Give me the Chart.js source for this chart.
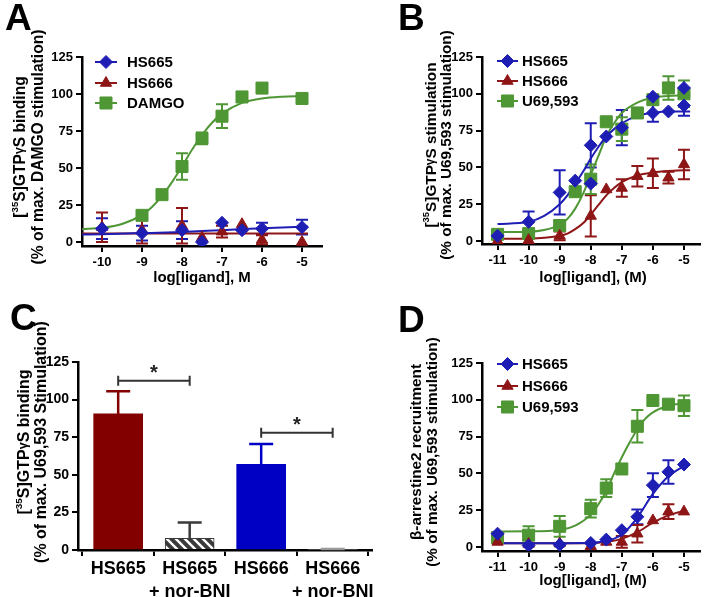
<!DOCTYPE html>
<html lang="en">
<head>
<meta charset="UTF-8">
<title>HS665 / HS666 GTPγS and β-arrestin2</title>
<script src="https://cdn.jsdelivr.net/npm/chart.js@4.4.1/dist/chart.umd.min.js"></script>
<style>
  body { margin: 0; background: #fff; }
  #fig { position: relative; width: 709px; height: 597px; overflow: hidden; }
  #fig canvas { position: absolute; }
</style>
</head>
<body>
<div id="fig">
  <canvas id="cA" width="355" height="300" style="left:0;top:0"></canvas>
  <canvas id="cB" width="354" height="300" style="left:355px;top:0"></canvas>
  <canvas id="cD" width="354" height="297" style="left:355px;top:300px"></canvas>
  <canvas id="cC" width="380" height="297" style="left:0;top:300px"></canvas>
</div>
<script>
// ---------- panel A : [35S]GTPγS binding, MOR ----------
const aHS665x = [-10, -9, -8, -7.5, -7, -6.5, -6, -5];
const aHS665y = [9, 6, 8, 0, 13, 8, 9, 10];
const aHS665e = [7, 5, 6, 0, 0, 0, 4, 5];
const aHS666x = [-10, -9, -8, -7.5, -7, -6.5, -6, -5];
const aHS666y = [10, 8, 11, 3, 7, 12, 1.5, 0];
const aHS666e = [10, 9, 12, 0, 4, 0, 3, 0];
const aDamgoX = [-9, -8.5, -8, -7.5, -7, -6.5, -6, -5];
const aDamgoY = [18, 32, 51, 70, 85, 98, 104, 97];
const aDamgoE = [1, 3, 9, 4, 8, 0, 0, 3];
// fitted curves
const aFitX = [-10.5, -10, -9.5, -9, -8.75, -8.5, -8.25, -8, -7.75, -7.5, -7.25, -7, -6.5, -6, -5.5, -5, -4.85];
const aFitDamgo = [8.6, 9.6, 12.2, 18.3, 23.7, 31.2, 40.5, 51, 62.3, 72.3, 80.6, 86.7, 94, 97, 98.2, 98.6, 98.7];
const aFit665X = [-10.5, -10, -9, -8, -7, -6, -5, -4.85];
const aFit665 = [5, 5.3, 6, 6.8, 8, 9.3, 10.3, 10.4];
const aFit666X = [-10.5, -8, -4.85];
const aFit666 = [5.8, 5.8, 5.8];

// ---------- panel B : [35S]GTPγS stimulation, KOR ----------
const bHS665x = [-11, -10, -9, -8.5, -8, -8, -7.5, -7, -6, -6, -5.5, -5, -5];
const bHS665y = [3.5, 13, 33, 41, 65, 39, 71, 77, 98, 87, 88, 104, 92];
const bHS665e = [0, 7, 15, 0, 15, 0, 0, 12, 0, 6, 0, 0, 7];
const bHS666x = [-11, -10, -9, -8, -7.5, -7, -6.5, -6, -5.5, -5];
const bHS666y = [0, 0.5, 3.5, 17, 35, 36, 44, 46, 43, 52];
const bHS666e = [0, 0, 3, 14, 0, 6, 7, 10, 4, 10];
const bU69x = [-11, -10, -9, -8.5, -8, -7.5, -7, -6.5, -6, -5.5, -5];
const bU69y = [4.5, 5, 10.5, 33.5, 42, 81, 76, 87, 96, 104, 100];
const bU69e = [1, 2, 3, 0, 10, 2, 8, 3, 3, 8, 9];
const bFitX = [-11, -10, -9.5, -9, -8.75, -8.5, -8.25, -8, -7.75, -7.5, -7.25, -7, -6.5, -6, -5.5, -5, -4.8];
const bFit665 = [11.5, 13, 17, 25, 31, 39, 47, 56, 64, 71, 76, 80, 85, 87, 88, 88, 88];
const bFit666 = [1.5, 1.7, 2.2, 3.5, 5, 8, 12, 18, 24.5, 31, 36, 40, 44.5, 46.5, 47.5, 48, 48];
const bFitU69 = [6, 6.3, 7.5, 11, 15, 22, 32, 45, 58, 71, 80, 87, 94, 97.5, 98.5, 99, 99];

// ---------- panel C : bars with nor-BNI ----------
const cLabels = [['HS665'], ['HS665', '+ nor-BNI'], ['HS666'], ['HS666', '+ nor-BNI']];
const cMean = [90.5, 7.8, 57, 0];
const cSem = [15, 10.5, 13.5, 0.6];
const cSigFrom = [0, 2];
const cSigTo = [1, 3];
const cSigY = [112.6, 77.9];

// ---------- panel D : β-arrestin2 recruitment ----------
const dDose = [-11, -10, -9, -8, -7.5, -7, -6.5, -6, -5.5, -5];
const dHS665y = [9, 1, 1.5, 2.7, 5, 11.4, 20.5, 42, 51, 56];
const dHS665e = [0, 0, 0, 0, 0, 0, 5, 8, 8, 0];
const dHS666y = [3.4, 2, 2.3, 0.5, 3.4, 3.4, 9, 18, 24, 24];
const dHS666e = [0, 0, 0, 0, 0, 4, 6, 0, 5, 0];
const dU69y = [6.4, 8, 14, 26, 40, 53, 82, 99.5, 97, 96];
const dU69e = [2, 6, 7, 6, 6, 0, 11, 0, 0, 7];
const dFitU69X = [-11, -10, -9, -8.5, -8, -7.75, -7.5, -7.25, -7, -6.75, -6.5, -6.25, -6, -5.5, -5, -4.8];
const dFitU69 = [10.5, 10.6, 11.5, 14.5, 22, 29, 38, 50, 61, 71, 80, 87, 91.5, 96, 97.5, 98];
const dFitX = [-11, -10, -9, -8, -7.5, -7, -6.5, -6, -5.5, -5];
const dFit665 = [2.5, 2.5, 2.5, 2.8, 4, 8.5, 20, 36, 48, 55];
const dFit666 = [2.5, 2.5, 2.5, 2.6, 3.5, 5.5, 10, 16.5, 21.5, 24.5];

const FONT = "'Liberation Sans', Arial, Helvetica, sans-serif";
const BLUE = '#1e1eb4';
const RED = '#8e1616';
const GREEN = '#4f9634';
const STYLE = {
  HS665: ['rectRot', 6.5, BLUE],
  HS666: ['triangle', 6.5, RED],
  DAMGO: ['rect', 8.5, GREEN],
  'U69,593': ['rect', 8.5, GREEN]
};

function pts(xs, ys) { return xs.map((x, i) => ({ x: x, y: ys[i] })); }

function drawMarker(ctx, name, x, y) {
  const s = STYLE[name];
  ctx.save();
  ctx.fillStyle = s[2];
  ctx.strokeStyle = s[2];
  ctx.lineWidth = 1;
  Chart.helpers.drawPoint(ctx, { pointStyle: s[0], radius: s[1], borderWidth: 1, rotation: 0 }, x, y);
  ctx.restore();
}

// text with superscripts: parts = [[text, kind]] kind 0 normal, 1 superscript, 2 small gamma
function richText(ctx, parts, x, y, size) {
  const f = k => 'bold ' + (k === 1 ? size * 0.62 : k === 2 ? size * 0.78 : size) + 'px ' + FONT;
  let w = 0;
  parts.forEach(p => { ctx.font = f(p[1]); w += ctx.measureText(p[0]).width; });
  let cx = x - w / 2;
  ctx.textAlign = 'left';
  ctx.textBaseline = 'alphabetic';
  parts.forEach(p => {
    ctx.font = f(p[1]);
    const dy = p[1] === 1 ? -size * 0.4 : p[1] === 2 ? -size * 0.12 : 0;
    ctx.fillText(p[0], cx, y + size * 0.36 + dy);
    cx += ctx.measureText(p[0]).width;
  });
}

function annotations(p) {
  return {
    id: 'annot',
    afterDraw(chart) {
      const ctx = chart.ctx;
      ctx.save();
      ctx.fillStyle = '#000';
      // panel letter
      ctx.font = 'bold 37px ' + FONT;
      ctx.textAlign = 'left';
      ctx.textBaseline = 'alphabetic';
      ctx.fillText(p.letter[0], p.letter[1], p.letter[2]);
      // y title, two rotated lines
      p.ytitle.lines.forEach((ln, i) => {
        ctx.save();
        ctx.translate(p.ytitle.xs[i], p.ytitle.cy);
        ctx.rotate(-Math.PI / 2);
        richText(ctx, ln, 0, 0, p.ytitle.size);
        ctx.restore();
      });
      // x title
      if (p.xtitle) {
        ctx.font = 'bold 15px ' + FONT;
        ctx.textAlign = 'center';
        ctx.textBaseline = 'middle';
        ctx.fillText(p.xtitle[0], p.xtitle[1], p.xtitle[2]);
      }
      // legend
      if (p.legend) {
        const L = p.legend;
        L.names.forEach((n, i) => {
          const y = L.ys[i];
          ctx.strokeStyle = STYLE[n][2];
          ctx.lineWidth = 2;
          ctx.beginPath();
          ctx.moveTo(L.x0, y);
          ctx.lineTo(L.x1, y);
          ctx.stroke();
          drawMarker(ctx, n, (L.x0 + L.x1) / 2, y);
          ctx.fillStyle = '#000';
          ctx.font = 'bold 15px ' + FONT;
          ctx.textAlign = 'left';
          ctx.textBaseline = 'middle';
          ctx.fillText(n, L.tx, y + 1);
        });
      }
      ctx.restore();
    }
  };
}

// vertical error bars for scatter datasets carrying an "errs" array
const errorBars = {
  id: 'errorBars',
  beforeDatasetsDraw(chart) {
    const ctx = chart.ctx, xs = chart.scales.x, ys = chart.scales.y;
    ctx.save();
    chart.data.datasets.forEach(ds => {
      if (!ds.errs) return;
      ctx.strokeStyle = ds.borderColor;
      ctx.lineWidth = 2;
      ds.data.forEach((d, j) => {
        const e = ds.errs[j];
        if (!e) return;
        const px = xs.getPixelForValue(d.x);
        const y1 = ys.getPixelForValue(d.y + e);
        const y2 = ys.getPixelForValue(Math.max(d.y - e, ys.min));
        ctx.beginPath();
        ctx.moveTo(px, y1); ctx.lineTo(px, y2);
        ctx.moveTo(px - 6, y1); ctx.lineTo(px + 6, y1);
        ctx.moveTo(px - 6, y2); ctx.lineTo(px + 6, y2);
        ctx.stroke();
      });
    });
    ctx.restore();
  }
};

function axisCfg(min, max, ticks, fit, size) {
  return {
    type: 'linear', min: min, max: max,
    afterBuildTicks: s => { s.ticks = ticks.map(v => ({ value: v })); },
    afterFit: fit,
    grid: { drawOnChartArea: false, drawTicks: true, tickLength: 6, color: '#000', lineWidth: 2 },
    border: { display: true, color: '#000', width: 2.5 },
    ticks: { color: '#000', font: { family: FONT, weight: 'bold', size: size }, padding: 3,
             maxRotation: 0, autoSkip: false, callback: v => String(v) }
  };
}

function doseChart(id, p) {
  const datasets = [];
  p.series.forEach(s => {
    const st = STYLE[s.name];
    datasets.push({
      type: 'scatter', data: pts(s.x, s.y), errs: s.e,
      pointStyle: st[0], pointRadius: st[1], backgroundColor: st[2], borderColor: st[2], borderWidth: 1
    });
  });
  p.fits.forEach(f => {
    datasets.push({
      type: 'line', data: pts(f.x, f.y), borderColor: STYLE[f.name][2], borderWidth: 2,
      pointRadius: 0, fill: false, cubicInterpolationMode: 'monotone'
    });
  });
  const W = p.W, H = p.H;
  return new Chart(document.getElementById(id), {
    type: 'scatter',
    data: { datasets: datasets },
    options: {
      responsive: false, animation: false, events: [],
      layout: { padding: { left: 0, right: W - p.box[1], top: p.box[2], bottom: 0 } },
      scales: {
        x: axisCfg(p.xr[0], p.xr[1], p.xticks, s => { s.height = H - p.box[3]; }, 13),
        y: axisCfg(p.ymin, 125, [0, 25, 50, 75, 100, 125], s => { s.width = p.box[0]; }, 13)
      },
      plugins: { legend: { display: false }, tooltip: { enabled: false } }
    },
    plugins: [errorBars, annotations(p)]
  });
}

const title35 = word => [['[', 0], ['35', 1], ['S]GTP', 0], ['γ', 2], ['S ' + word, 0]];

doseChart('cA', {
  W: 355, H: 300, box: [82, 322, 57, 246], xr: [-10.5, -4.5], ymin: -2.7,
  xticks: [-10, -9, -8, -7, -6, -5],
  series: [
    { name: 'HS665', x: aHS665x, y: aHS665y, e: aHS665e },
    { name: 'HS666', x: aHS666x, y: aHS666y, e: aHS666e },
    { name: 'DAMGO', x: aDamgoX, y: aDamgoY, e: aDamgoE }
  ],
  fits: [
    { name: 'HS665', x: aFit665X, y: aFit665 },
    { name: 'HS666', x: aFit666X, y: aFit666 },
    { name: 'DAMGO', x: aFitX, y: aFitDamgo }
  ],
  legend: { names: ['HS665', 'HS666', 'DAMGO'], x0: 95, x1: 117, tx: 127, ys: [62, 83, 103] },
  letter: ['A', 5, 30],
  ytitle: { lines: [title35('binding'), [['(% of max. DAMGO stimulation)', 0]]], xs: [19, 37], cy: 147, size: 15.6 },
  xtitle: ['log[ligand], M', 202, 278]
});

doseChart('cB', {
  W: 354, H: 300, box: [127, 350, 57, 244], xr: [-11.5, -4.5], ymin: -2.05,
  xticks: [-11, -10, -9, -8, -7, -6, -5],
  series: [
    { name: 'HS665', x: bHS665x, y: bHS665y, e: bHS665e },
    { name: 'HS666', x: bHS666x, y: bHS666y, e: bHS666e },
    { name: 'U69,593', x: bU69x, y: bU69y, e: bU69e }
  ],
  fits: [
    { name: 'HS665', x: bFitX, y: bFit665 },
    { name: 'HS666', x: bFitX, y: bFit666 },
    { name: 'U69,593', x: bFitX, y: bFitU69 }
  ],
  legend: { names: ['HS665', 'HS666', 'U69,593'], x0: 142, x1: 163, tx: 167, ys: [61, 81, 101] },
  letter: ['B', 43, 30],
  ytitle: { lines: [title35('stimulation'), [['(% of max. U69,593 stimulation)', 0]]], xs: [75, 90], cy: 145, size: 15.3 },
  xtitle: ['log[ligand], (M)', 238, 278]
});

doseChart('cD', {
  W: 354, H: 297, box: [127, 350, 63, 251], xr: [-11.5, -4.5], ymin: -2.75,
  xticks: [-11, -10, -9, -8, -7, -6, -5],
  series: [
    { name: 'HS665', x: dDose, y: dHS665y, e: dHS665e },
    { name: 'HS666', x: dDose, y: dHS666y, e: dHS666e },
    { name: 'U69,593', x: dDose, y: dU69y, e: dU69e }
  ],
  fits: [
    { name: 'HS665', x: dFitX, y: dFit665 },
    { name: 'HS666', x: dFitX, y: dFit666 },
    { name: 'U69,593', x: dFitU69X, y: dFitU69 }
  ],
  legend: { names: ['HS665', 'HS666', 'U69,593'], x0: 142, x1: 163, tx: 167, ys: [64, 86, 107] },
  letter: ['D', 43, 32],
  ytitle: { lines: [[['β-arrestine2 recruitment', 0]], [['(% of max. U69,593 stimulation)', 0]]], xs: [60, 76], cy: 152, size: 15.3 },
  xtitle: ['log[ligand], (M)', 238, 281]
});

// ---------- panel C ----------
function hatchPattern() {
  const c = document.createElement('canvas');
  c.width = 9; c.height = 9;
  const g = c.getContext('2d');
  g.fillStyle = '#3a3a3a';
  g.fillRect(0, 0, 9, 9);
  g.strokeStyle = '#fff';
  g.lineWidth = 2.4;
  g.beginPath();
  g.moveTo(0, 0); g.lineTo(9, 9);
  g.moveTo(-2, 7); g.lineTo(2, 11);
  g.moveTo(7, -2); g.lineTo(11, 2);
  g.stroke();
  return g.createPattern(c, 'repeat');
}

const cFill = ['#820000', hatchPattern(), '#0000c4', '#ffffff'];
const cLine = ['#820000', '#3a3a3a', '#0000c4', '#999999'];

const barExtras = {
  id: 'barExtras',
  afterDatasetsDraw(chart) {
    const ctx = chart.ctx, xs = chart.scales.x, ys = chart.scales.y;
    ctx.save();
    ctx.lineWidth = 2.5;
    cMean.forEach((m, i) => {
      const px = xs.getPixelForValue(i);
      const y0 = ys.getPixelForValue(m);
      const y1 = ys.getPixelForValue(m + cSem[i]);
      ctx.strokeStyle = cLine[i];
      ctx.beginPath();
      ctx.moveTo(px, y0); ctx.lineTo(px, y1);
      ctx.moveTo(px - 12, y1); ctx.lineTo(px + 12, y1);
      ctx.stroke();
    });
    // significance brackets
    ctx.strokeStyle = '#333';
    ctx.fillStyle = '#222';
    ctx.lineWidth = 2;
    cSigY.forEach((v, i) => {
      const xa = xs.getPixelForValue(cSigFrom[i]);
      const xb = xs.getPixelForValue(cSigTo[i]);
      const y = ys.getPixelForValue(v);
      ctx.beginPath();
      ctx.moveTo(xa, y); ctx.lineTo(xb, y);
      ctx.moveTo(xa, y - 5); ctx.lineTo(xa, y + 5);
      ctx.moveTo(xb, y - 5); ctx.lineTo(xb, y + 5);
      ctx.stroke();
      ctx.font = 'bold 20px ' + FONT;
      ctx.textAlign = 'center';
      ctx.textBaseline = 'middle';
      ctx.fillText('*', (xa + xb) / 2, y - 7);
    });
    ctx.restore();
  }
};

new Chart(document.getElementById('cC'), {
  type: 'bar',
  data: {
    datasets: [{
      data: pts([0, 1, 2, 3], cMean),
      backgroundColor: cFill, borderColor: cLine, borderWidth: [0, 1, 0, 0], barThickness: 49
    }]
  },
  options: {
    responsive: false, animation: false, events: [],
    layout: { padding: { left: 0, right: 8, top: 62, bottom: 0 } },
    scales: {
      x: {
        type: 'linear', min: -0.562, max: 3.55, offset: false,
        afterBuildTicks: s => { s.ticks = [0, 1, 2, 3].map(v => ({ value: v })); },
        afterFit: s => { s.height = 297 - 250; },
        grid: { drawOnChartArea: false, drawTicks: true, tickLength: 6, color: '#000', lineWidth: 2 },
        border: { display: true, color: '#000', width: 2.5 },
        ticks: { color: '#000', font: { family: FONT, weight: 'bold', size: 18, lineHeight: 1.3 }, padding: 1,
                 maxRotation: 0, autoSkip: false, callback: v => cLabels[v] }
      },
      y: {
        type: 'linear', min: 0, max: 125,
        afterBuildTicks: s => { s.ticks = [0, 25, 50, 75, 100, 125].map(v => ({ value: v })); },
        afterFit: s => { s.width = 78; },
        grid: { drawOnChartArea: false, drawTicks: true, tickLength: 6, color: '#000', lineWidth: 2 },
        border: { display: true, color: '#000', width: 2.5 },
        ticks: { color: '#000', font: { family: FONT, weight: 'bold', size: 14 }, padding: 3 }
      }
    },
    plugins: { legend: { display: false }, tooltip: { enabled: false } }
  },
  plugins: [barExtras, annotations({
    letter: ['C', 10, 30],
    ytitle: { lines: [title35('binding'), [['(% of max. U69,593 Stimulation)', 0]]], xs: [23, 40], cy: 142, size: 16 }
  })]
});
</script>
</body>
</html>
